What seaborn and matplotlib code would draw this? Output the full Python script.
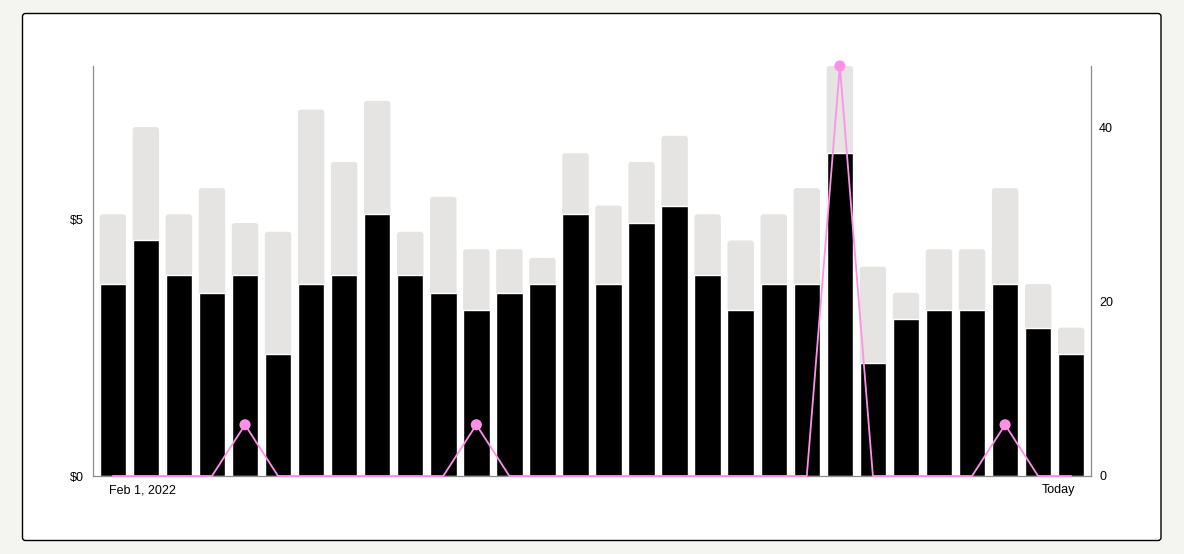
import pandas as pd
import matplotlib
matplotlib.use("Agg")
import matplotlib.pyplot as plt
import seaborn as sns
from matplotlib.patches import FancyBboxPatch
from matplotlib.transforms import ScaledTranslation

# daily values (30 days)
days = list(range(30))
totals = [30, 40, 30, 33, 29, 28, 42, 36, 43, 28, 32, 26, 26, 25, 37,
          31, 36, 39, 30, 27, 30, 33, 47, 24, 21, 26, 26, 33, 22, 17]
sales = [22, 27, 23, 21, 23, 14, 22, 23, 30, 23, 21, 19, 21, 22, 30,
         22, 29, 31, 23, 19, 22, 22, 37, 13, 18, 19, 19, 22, 17, 14]
revenue = [0, 0, 0, 0, 1, 0, 0, 0, 0, 0, 0, 1, 0, 0, 0,
           0, 0, 0, 0, 0, 0, 0, 8, 0, 0, 0, 0, 1, 0, 0]
date_labels = ["Feb 1, 2022", "Today"]

PINK = "#ff90e8"
GREY = "#e5e4e2"
SPINE = "#8c8c8c"

df = pd.DataFrame({"day": days, "total": totals, "sales": sales, "revenue": revenue})

sns.set_theme(style="white")
plt.rcParams["font.family"] = ["Liberation Sans", "DejaVu Sans"]
plt.rcParams["font.size"] = 9

fig = plt.figure(figsize=(11.84, 5.54), dpi=100)
fig.patch.set_facecolor("#f4f4f0")

# white card with thin black border
card = FancyBboxPatch((22.5 / 1184, 1 - 540.5 / 554), (1161 - 22.5) / 1184, 527 / 554,
                      boxstyle="round,pad=0,rounding_size=0.0025",
                      mutation_aspect=1184 / 554,
                      transform=fig.transFigure, facecolor="white",
                      edgecolor="black", linewidth=1.0, zorder=-10)
fig.patches.append(card)

ax = fig.add_axes([93 / 1184, 1 - 476 / 554, 998 / 1184, 410 / 554])
ax.set_facecolor("none")
ax2 = ax.twinx()  # revenue ($) axis, drawn above the bars

# grey bars (totals) with rounded tops, black bars on top
sns.barplot(data=df, x="day", y="total", color=GREY, width=0.8, saturation=1, ax=ax)
grey_bars = list(ax.patches)
for p in grey_bars:
    rb = FancyBboxPatch((p.get_x(), p.get_y()), p.get_width(), p.get_height(),
                        boxstyle="round,pad=0,rounding_size=0.09",
                        mutation_aspect=3.78, facecolor=GREY, edgecolor="none",
                        zorder=1)
    p.remove()
    ax.add_patch(rb)
sns.barplot(data=df, x="day", y="sales", color="black", width=0.8, saturation=1, ax=ax,
            zorder=2)

# revenue line
sns.lineplot(data=df, x="day", y="revenue", color=PINK, linewidth=1.3, ax=ax2,
             clip_on=False, zorder=5)
sns.scatterplot(data=df[df["revenue"] > 0], x="day", y="revenue", color=PINK,
                s=64, edgecolor="none", ax=ax2, clip_on=False, zorder=6)

ax.set_xlim(-0.6, 29.6)
ax2.set_xlim(-0.6, 29.6)
ax.set_ylim(0, 47)
ax2.set_ylim(0, 8)

# counts on the right, dollars on the left
ax.yaxis.tick_right()
ax.yaxis.set_label_position("right")
ax.set_yticks([0, 20, 40])
ax.tick_params(axis="y", length=0, pad=5.8, labelsize=9, labelcolor="black",
               labelleft=False, labelright=True)
ax2.yaxis.tick_left()
ax2.set_yticks([0, 5], ["$0", "$5"])
ax2.tick_params(axis="y", length=0, pad=6.5, labelsize=9, labelcolor="black",
                labelleft=True, labelright=False)
ax2.tick_params(axis="x", labelbottom=False, bottom=False)

ax.set_xticks([0, 29], date_labels)
ax.tick_params(axis="x", length=0, pad=5.8, labelsize=9, labelcolor="black")
xl = ax.get_xticklabels()
xl[0].set_ha("left")
xl[1].set_ha("right")
xl[0].set_transform(xl[0].get_transform() + ScaledTranslation(-4 / 100, 0, fig.dpi_scale_trans))
xl[1].set_transform(xl[1].get_transform() + ScaledTranslation(4 / 100, 0, fig.dpi_scale_trans))

for a in (ax, ax2):
    a.set_xlabel("")
    a.set_ylabel("")
for side in ["left", "right", "bottom"]:
    ax.spines[side].set_visible(True)
    ax.spines[side].set_color(SPINE)
    ax.spines[side].set_linewidth(0.9)
ax.spines["top"].set_visible(False)
for s in ax2.spines.values():
    s.set_visible(False)

fig.savefig("out.png", dpi=100, facecolor=fig.get_facecolor())
